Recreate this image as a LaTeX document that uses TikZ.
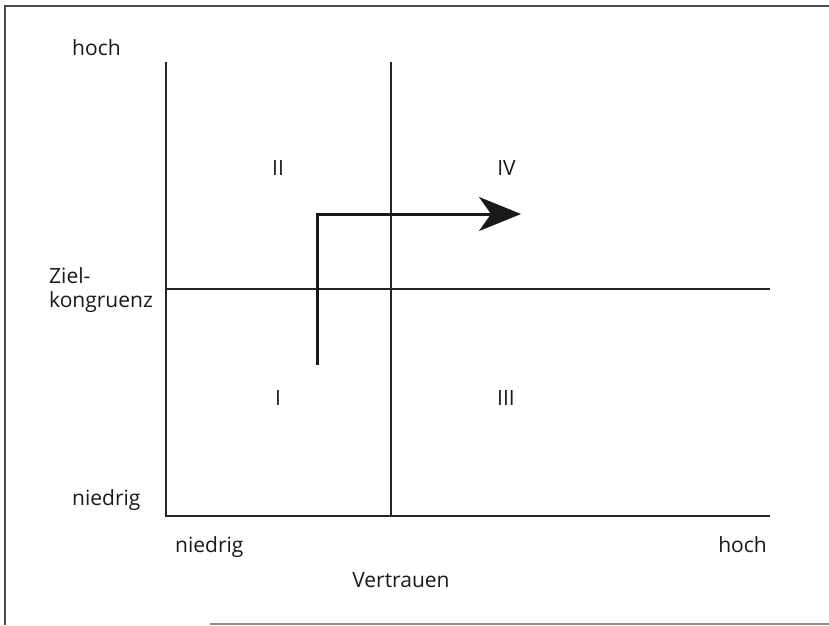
\documentclass[tikz,border=0pt]{standalone}
\usepackage{fontspec}
\setmainfont{Open Sans}
\usepackage{tikz}
\usetikzlibrary{arrows.meta}

\tikzset{
	achse/.style={line width=1.1pt, color=black!85},
	rahmen/.style={line width=1.3pt, color=black!70},
	pfeil/.style={line width=3pt, color=black!90, -{Stealth[length=42pt, width=34pt, inset=12pt]}},
	beschriftung/.style={font=\fontsize{21}{24}\selectfont, color=black!90, inner sep=0pt}
}

\begin{document}
\begin{tikzpicture}[x=1pt, y=-1pt]
			%%%%% START %%%%%
			\useasboundingbox (0, 0) rectangle (829, 625);
			
			% Rahmen
			\draw[rahmen] (5, 625) -- (5, 6) -- (829, 6);
			\draw[line width=1.3pt, color=black!45] (210, 624) -- (829, 624);
			
			% Achsen und Quadranten
			\coordinate (ursprung) at (166, 516);
			\coordinate (yoben) at (166, 62);
			\coordinate (xrechts) at (770, 516);
			\coordinate (mitteoben) at (391, 62);
			\coordinate (mitteunten) at (391, 516);
			\coordinate (mittelinks) at (166, 289);
			\coordinate (mitterechts) at (770, 289);
			
			\draw[achse] (yoben) -- (ursprung) -- (xrechts);
			\draw[achse] (mitteoben) -- (mitteunten);
			\draw[achse] (mittelinks) -- (mitterechts);
			
			% Entwicklungspfad
			\coordinate (start) at (317, 365);
			\coordinate (knick) at (317, 214);
			\coordinate (ziel) at (521, 214);
			\draw[pfeil] (start) -- (knick) -- (ziel);
			
			% Beschriftungen
			\node[beschriftung, anchor=base west] (yhoch) at (72, 55) {hoch};
			\node[beschriftung, anchor=base west] (zk1) at (49, 283) {Ziel-};
			\node[beschriftung, anchor=base west] (zk2) at (49, 307) {kongruenz};
			\node[beschriftung, anchor=base west] (yniedrig) at (72, 505) {niedrig};
			\node[beschriftung, anchor=base west] (xniedrig) at (175, 552) {niedrig};
			\node[beschriftung, anchor=base east] (xhoch) at (767, 552) {hoch};
			\node[beschriftung, anchor=base] (xtitel) at (401, 587) {Vertrauen};
			
			\node[beschriftung, anchor=base] (q2) at (278, 175) {II};
			\node[beschriftung, anchor=base] (q4) at (506.5, 175) {IV};
			\node[beschriftung, anchor=base] (q1) at (278, 405) {I};
			\node[beschriftung, anchor=base] (q3) at (506, 405) {III};
			%%%%% END %%%%%
\end{tikzpicture}
\end{document}
